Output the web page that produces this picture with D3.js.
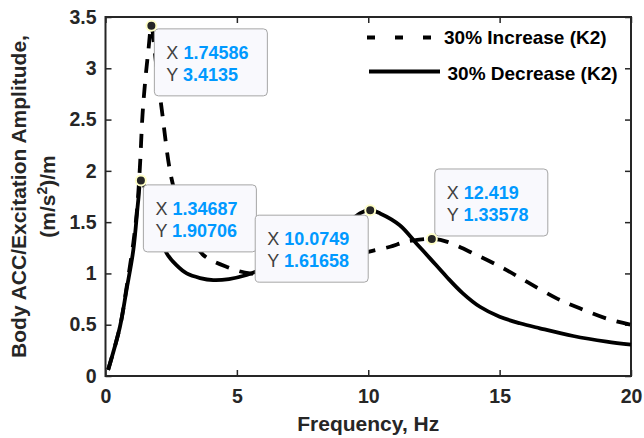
<!DOCTYPE html>
<html lang="en">
  <head>
    <meta charset="UTF-8" />
    <title>Body ACC response</title>
    <script src="https://d3js.org/d3.v7.min.js"></script>
    <style>
      body { margin: 0; background: #fff; }
      text { font-family: "Liberation Sans", Arial, Helvetica, sans-serif; }
    </style>
  </head>
  <body>
    <div id="chart"></div>
  </body>
</html>

<script>
  // 30% Increase (K2) - dashed
  const incFreq = [0.1, 0.55, 0.8, 1.06, 1.2, 1.31, 1.41, 1.52, 1.63, 1.74586, 1.9, 2.14, 2.5, 2.9, 3.3, 3.72, 4.6, 5.5, 6.5, 7.5, 8.5, 9.3, 10.0, 10.83, 11.46, 12.419, 12.98, 14.12, 15.14, 16.03, 17.17, 18.05, 19.07, 20]
  const incAmp = [0.06, 0.48, 0.86, 1.3, 1.62, 2.04, 2.55, 2.9, 3.17, 3.4135, 3.1, 2.6, 1.94, 1.58, 1.34, 1.18, 1.065, 1.0, 1.01, 1.04, 1.09, 1.15, 1.21, 1.26, 1.31, 1.33578, 1.31, 1.18, 1.05, 0.92, 0.757, 0.66, 0.56, 0.5]

  // 30% Decrease (K2) - solid
  const decFreq = [0.1, 0.55, 0.8, 1.06, 1.25, 1.34687, 1.6, 1.9, 2.1, 2.33, 2.7, 3.09, 3.6, 4.1, 4.7, 5.37, 5.75, 6.5, 7.5, 8.5, 9.2, 9.68, 10.0749, 10.45, 11.2, 11.84, 12.35, 12.98, 13.6, 14.25, 15.0, 15.77, 16.53, 17.8, 19.07, 20]
  const decAmp = [0.06, 0.48, 0.84, 1.23, 1.72, 1.90706, 1.76, 1.52, 1.36, 1.196, 1.08, 1.0, 0.955, 0.935, 0.945, 0.985, 1.02, 1.1, 1.22, 1.37, 1.49, 1.586, 1.61658, 1.585, 1.47, 1.29, 1.147, 0.968, 0.806, 0.675, 0.578, 0.514, 0.465, 0.39, 0.335, 0.305]

  const seriesNames = ["30% Increase (K2)", "30% Decrease (K2)"]

  // data tips
  const tipX = [1.74586, 1.34687, 10.0749, 12.419]
  const tipY = [3.4135, 1.90706, 1.61658, 1.33578]

  const xTicks = [0, 5, 10, 15, 20]
  const yTicks = [0, 0.5, 1, 1.5, 2, 2.5, 3, 3.5]

  const width = 644
  const height = 438
  const mLeft = 105.5, mRight = 631, mTop = 17, mBottom = 376
  const axisColor = "#262626"

  const svg = d3
    .select("#chart")
    .append("svg")
    .attr("width", width)
    .attr("height", height)

  const x = d3.scaleLinear().domain([0, 20]).range([mLeft, mRight])
  const y = d3.scaleLinear().domain([0, 3.5]).range([mBottom, mTop])

  // axes with inward ticks
  const styleAxis = (g) => {
    g.select(".domain").remove()
    g.selectAll(".tick line").attr("stroke", axisColor).attr("stroke-width", 1.5)
    g.selectAll(".tick text")
      .attr("fill", axisColor)
      .style("font-size", "19.5px")
      .style("font-weight", "bold")
  }

  svg.append("g")
    .attr("transform", `translate(0,${mBottom})`)
    .call(d3.axisBottom(x).tickValues(xTicks).tickFormat((d) => d).tickSize(-6).tickPadding(13))
    .call(styleAxis)

  svg.append("g")
    .attr("transform", `translate(${mLeft},0)`)
    .call(d3.axisLeft(y).tickValues(yTicks).tickFormat((d) => d).tickSize(-6).tickPadding(9))
    .call(styleAxis)

  svg.append("g")
    .attr("transform", `translate(0,${mTop})`)
    .call(d3.axisTop(x).tickValues(xTicks).tickSize(-6).tickFormat(""))
    .call(styleAxis)

  svg.append("g")
    .attr("transform", `translate(${mRight},0)`)
    .call(d3.axisRight(y).tickValues(yTicks).tickSize(-6).tickFormat(""))
    .call(styleAxis)

  svg.append("rect")
    .attr("x", mLeft)
    .attr("y", mTop)
    .attr("width", mRight - mLeft)
    .attr("height", mBottom - mTop)
    .attr("fill", "none")
    .attr("stroke", axisColor)
    .attr("stroke-width", 2)

  // lines
  const line = d3.line()
    .x((d) => x(d[0]))
    .y((d) => y(d[1]))
    .curve(d3.curveCatmullRom.alpha(0.5))

  const incData = incFreq.map((f, i) => [f, incAmp[i]])
  const decData = decFreq.map((f, i) => [f, decAmp[i]])

  svg.append("path")
    .datum(decData)
    .attr("d", line)
    .attr("fill", "none")
    .attr("stroke", "#000")
    .attr("stroke-width", 3.8)
    .attr("stroke-linejoin", "round")

  svg.append("path")
    .datum(incData)
    .attr("d", line)
    .attr("fill", "none")
    .attr("stroke", "#000")
    .attr("stroke-width", 3.8)
    .attr("stroke-dasharray", "14,11")

  // legend
  const legendRows = [
    { name: seriesNames[0], dash: "8,20", x1: 367, x2: 438, ly: 37.5, tx: 444, ty: 44 },
    { name: seriesNames[1], dash: null, x1: 369, x2: 440, ly: 71.5, tx: 447.5, ty: 80 }
  ]
  legendRows.forEach((r) => {
    svg.append("line")
      .attr("x1", r.x1).attr("x2", r.x2)
      .attr("y1", r.ly).attr("y2", r.ly)
      .attr("stroke", "#000")
      .attr("stroke-width", 3.8)
      .attr("stroke-dasharray", r.dash)
    svg.append("text")
      .attr("x", r.tx).attr("y", r.ty)
      .style("font-size", "19px")
      .style("font-weight", "bold")
      .attr("fill", "#000")
      .text(r.name)
  })

  // data tips
  const boxW = 113, boxH = 67
  const tipOffset = [[3, 3], [2.5, 4.5], [-boxW - 2, 5], [3, -boxH - 3]]
  tipX.forEach((tx, i) => {
    const mx = x(tx), my = y(tipY[i])
    const bx = mx + tipOffset[i][0], by = my + tipOffset[i][1]
    const g = svg.append("g")
    g.append("rect")
      .attr("x", bx).attr("y", by)
      .attr("width", boxW).attr("height", boxH)
      .attr("rx", 4)
      .attr("fill", "#f9f9fd")
      .attr("stroke", "#a6a6a6")
      .attr("stroke-width", 1)
    const rows = [["X", tx], ["Y", tipY[i]]]
    rows.forEach((r, j) => {
      const t = g.append("text")
        .attr("x", bx + 12)
        .attr("y", by + 30 + j * 22)
        .style("font-size", "18px")
      t.append("tspan").attr("fill", "#404040").text(r[0] + " ")
      t.append("tspan").attr("fill", "#0099ff").style("font-weight", "bold").text(String(r[1]))
    })
    svg.append("circle")
      .attr("cx", mx).attr("cy", my)
      .attr("r", 5)
      .attr("fill", "#262626")
      .attr("stroke", "#ffffc8")
      .attr("stroke-width", 2)
  })

  // axis labels
  svg.append("text")
    .attr("x", (mLeft + mRight) / 2)
    .attr("y", 431)
    .attr("text-anchor", "middle")
    .attr("fill", axisColor)
    .style("font-size", "21px")
    .style("font-weight", "bold")
    .text("Frequency, Hz")

  const yl = svg.append("text")
    .attr("transform", `translate(26,${(mTop + mBottom) / 2}) rotate(-90)`)
    .attr("text-anchor", "middle")
    .attr("fill", axisColor)
    .style("font-size", "21px")
    .style("font-weight", "bold")
  yl.append("tspan").attr("x", 0).attr("y", 0).text("Body ACC/Excitation Amplitude,")
  yl.append("tspan").attr("x", 0).attr("y", 29).text("(m/s")
  yl.append("tspan").attr("dy", -8).style("font-size", "14px").text("2")
  yl.append("tspan").attr("dy", 8).text(")/m")
</script>
